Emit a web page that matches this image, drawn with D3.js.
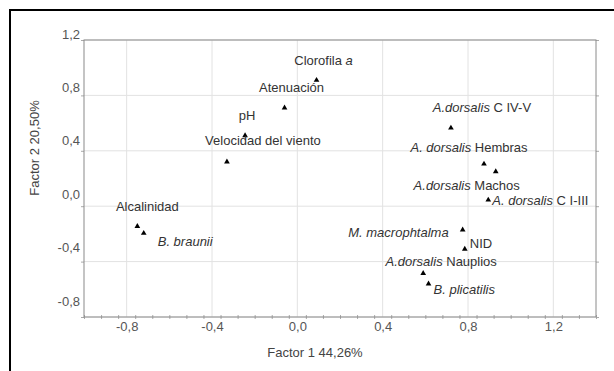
<!DOCTYPE html>
<html>
<head>
<meta charset="utf-8">
<script src="https://cdn.jsdelivr.net/npm/d3@7"></script>
<style>
  body { margin: 0; background: #fff; }
  svg { display: block; }
  text { font-family: "Liberation Sans", Arial, sans-serif; }
</style>
</head>
<body>
<svg id="chart" width="614" height="371"></svg>
<script>
// Variable / species names; each entry is a list of [text, italic] segments
const labels = [
  [["Clorofila ", 0], ["a", 1]],
  [["Atenuación", 0]],
  [["pH", 0]],
  [["Velocidad del viento", 0]],
  [["A.dorsalis", 1], [" C IV-V", 0]],
  [["A. dorsalis", 1], [" Hembras", 0]],
  [["A.dorsalis", 1], [" Machos", 0]],
  [["A. dorsalis", 1], [" C I-III", 0]],
  [["M. macrophtalma", 1]],
  [["NID", 0]],
  [["A.dorsalis", 1], [" Nauplios", 0]],
  [["B. plicatilis", 1]],
  [["Alcalinidad", 0]],
  [["B. braunii", 1]]
];

// Loadings on factor 1 (44,26%) and factor 2 (20,50%)
const factor1 = [0.09, -0.06, -0.245, -0.33, 0.72, 0.875, 0.93, 0.895, 0.775, 0.785, 0.59, 0.615, -0.75, -0.72];
const factor2 = [0.91, 0.71, 0.51, 0.32, 0.565, 0.305, 0.25, 0.045, -0.17, -0.31, -0.485, -0.56, -0.145, -0.195];

const xTicks = [-0.8, -0.4, 0.0, 0.4, 0.8, 1.2];
const yTicks = [-0.8, -0.4, 0.0, 0.4, 0.8, 1.2];
const xTitle = "Factor 1 44,26%";
const yTitle = "Factor 2 20,50%";

// Label placement relative to each marker: [dx, dy, anchor]
const labelPlacement = [
  [7, -20, "middle"], [7, -20, "middle"], [2, -20, "middle"], [36, -21, "middle"],
  [31, -20, "middle"], [-15, -17, "middle"], [-29, 14, "middle"], [4, 0, "start"],
  [-14, 3, "end"], [5, -6, "start"], [18, -12, "middle"], [5, 6, "start"],
  [10, -20, "middle"], [14, 8, "start"]
];

const svg = d3.select("#chart");
const plot = { left: 84, top: 40, right: 596, bottom: 317 };

const x = d3.scaleLinear().domain([-1.0, 1.4]).range([plot.left, plot.right]);
const y = d3.scaleLinear().domain([-0.8, 1.2]).range([plot.bottom, plot.top]);
// tick labels on the vertical axis sit slightly above their grid lines
const yLabel = d3.scaleLinear().domain([-0.8, 1.2]).range([301, 34]);
const fmt = d => d3.format(".1f")(d).replace(".", ",").replace("−", "-");

svg.append("rect").attr("width", 614).attr("height", 371).attr("fill", "#fff");

// outer frame
svg.append("rect")
  .attr("x", 10).attr("y", 10).attr("width", 700).attr("height", 500)
  .attr("fill", "none").attr("stroke", "#000").attr("stroke-width", 2);

// grid
const grid = svg.append("g");
grid.selectAll("line.v").data(xTicks).join("line")
  .attr("x1", d => x(d)).attr("x2", d => x(d))
  .attr("y1", plot.top).attr("y2", plot.bottom)
  .attr("stroke", "#e2e2e2").attr("stroke-width", 1);
grid.selectAll("line.h").data(yTicks).join("line")
  .attr("y1", d => y(d)).attr("y2", d => y(d))
  .attr("x1", plot.left).attr("x2", plot.right)
  .attr("stroke", "#e2e2e2").attr("stroke-width", 1);

// minor ticks on the bottom axis
const minorX = d3.range(-1.0, 1.4001, 0.08);
svg.append("g").attr("transform", `translate(0,${plot.bottom})`)
  .call(d3.axisBottom(x).tickValues(minorX).tickSize(2).tickFormat(""))
  .call(g => g.select(".domain").remove())
  .call(g => g.selectAll("line").attr("stroke", "#aaa").attr("y1", -2));

// ticks on the left and right edges at the grid lines
svg.append("g").attr("transform", `translate(${plot.left},0)`)
  .call(d3.axisLeft(y).tickValues(yTicks).tickSize(3).tickFormat(""))
  .call(g => g.select(".domain").remove())
  .call(g => g.selectAll("line").attr("stroke", "#aaa"));
svg.append("g").attr("transform", `translate(${plot.right},0)`)
  .call(d3.axisRight(y).tickValues(yTicks).tickSize(3).tickFormat(""))
  .call(g => g.select(".domain").remove())
  .call(g => g.selectAll("line").attr("stroke", "#aaa"));

// plot frame
svg.append("rect")
  .attr("x", plot.left).attr("y", plot.top)
  .attr("width", plot.right - plot.left).attr("height", plot.bottom - plot.top)
  .attr("fill", "none").attr("stroke", "#8a8a8a").attr("stroke-width", 1);

// x tick labels
svg.append("g").attr("transform", `translate(0,${plot.bottom})`)
  .call(d3.axisBottom(x).tickValues(xTicks).tickSize(0).tickPadding(5).tickFormat(fmt))
  .call(g => g.select(".domain").remove())
  .call(g => g.selectAll("text")
    .attr("font-size", 13).attr("fill", "#555")
    .attr("font-family", "Liberation Sans, Arial, sans-serif"));

// y tick labels
svg.append("g").attr("transform", `translate(${plot.left - 4},0)`)
  .call(d3.axisLeft(yLabel).tickValues(yTicks).tickSize(0).tickPadding(0).tickFormat(fmt))
  .call(g => g.select(".domain").remove())
  .call(g => g.selectAll("text")
    .attr("font-size", 13).attr("fill", "#555")
    .attr("font-family", "Liberation Sans, Arial, sans-serif"));

// axis titles
svg.append("text")
  .attr("x", 315).attr("y", 352).attr("dy", "0.35em")
  .attr("text-anchor", "middle").attr("font-size", 13).attr("fill", "#444")
  .text(xTitle);
svg.append("text")
  .attr("transform", "translate(34,148) rotate(-90)")
  .attr("dy", "0.35em")
  .attr("text-anchor", "middle").attr("font-size", 13).attr("fill", "#444")
  .text(yTitle);

// points
const pts = labels.map((l, i) => ({ label: l, f1: factor1[i], f2: factor2[i], place: labelPlacement[i] }));

svg.append("g").selectAll("path").data(pts).join("path")
  .attr("transform", d => `translate(${x(d.f1)},${y(d.f2)})`)
  .attr("d", d3.symbol(d3.symbolTriangle, 14))
  .attr("fill", "#000");

// point labels
const lab = svg.append("g").selectAll("text").data(pts).join("text")
  .attr("x", d => x(d.f1) + d.place[0])
  .attr("y", d => y(d.f2) + d.place[1])
  .attr("dy", "0.35em")
  .attr("text-anchor", d => d.place[2])
  .attr("font-size", 13)
  .attr("fill", "#333");
lab.selectAll("tspan").data(d => d.label).join("tspan")
  .attr("font-style", s => s[1] ? "italic" : "normal")
  .text(s => s[0]);
</script>
</body>
</html>
